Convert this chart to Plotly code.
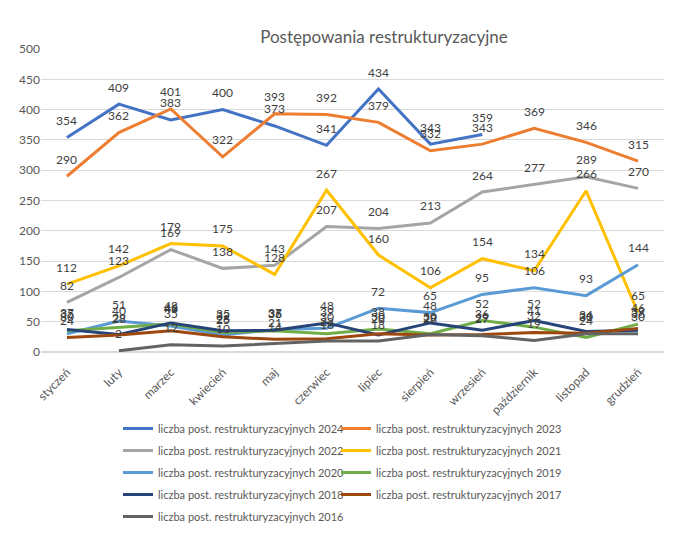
import plotly.graph_objects as go

months = ["styczeń", "luty", "marzec", "kwiecień", "maj", "czerwiec", "lipiec",
          "sierpień", "wrzesień", "październik", "listopad", "grudzień"]

y2024 = [354, 409, 383, 400, 373, 341, 434, 343, 359, None, None, None]
y2023 = [290, 362, 401, 322, 393, 392, 379, 332, 343, 369, 346, 315]
y2022 = [82, 123, 169, 138, 143, 207, 204, 213, 264, 277, 289, 270]
y2021 = [112, 142, 179, 175, 128, 267, 160, 106, 154, 134, 266, 65]
y2020 = [30, 51, 43, 28, 37, 39, 72, 65, 95, 106, 93, 144]
y2019 = [35, 40, 46, 32, 35, 30, 38, 30, 52, 41, 24, 46]
y2018 = [37, 29, 48, 35, 36, 48, 28, 48, 36, 52, 34, 36]
y2017 = [24, 28, 35, 25, 21, 22, 30, 28, 29, 32, 31, 39]
y2016 = [None, 2, 12, 10, 14, 18, 18, 29, 27, 19, 30, 30]

series = [
    ("liczba post. restrukturyzacyjnych 2024", y2024, "#4472C4"),
    ("liczba post. restrukturyzacyjnych 2023", y2023, "#ED7D31"),
    ("liczba post. restrukturyzacyjnych 2022", y2022, "#A5A5A5"),
    ("liczba post. restrukturyzacyjnych 2021", y2021, "#FFC000"),
    ("liczba post. restrukturyzacyjnych 2020", y2020, "#5B9BD5"),
    ("liczba post. restrukturyzacyjnych 2019", y2019, "#70AD47"),
    ("liczba post. restrukturyzacyjnych 2018", y2018, "#264478"),
    ("liczba post. restrukturyzacyjnych 2017", y2017, "#9E480E"),
    ("liczba post. restrukturyzacyjnych 2016", y2016, "#636363"),
]

FONT = "Lato"
fig = go.Figure()
annotations = []
for i, (name, vals, col) in enumerate(series):
    fig.add_trace(go.Scatter(
        x=months, y=vals, mode="lines", name=name,
        legend="legend" if i % 2 == 0 else "legend2",
        legendgroup="g%d" % i,
        line=dict(color=col, width=3),
        connectgaps=False,
    ))
    for m, v in zip(months, vals):
        if v is None:
            continue
        annotations.append(dict(
            x=m, y=v, xref="x", yref="y", text=str(v), showarrow=False,
            yshift=17, font=dict(family=FONT, size=12, color="#404040"),
        ))

# page is offset by the browser's 8px body margin
W, H = 671, 529
ml, mr, mt, mb = 33, 15, 41, 185
pw = W - ml - mr
ph = H - mt - mb

leg_common = dict(orientation="v", yanchor="top", xanchor="left",
                  y=(mt + ph - 406) / ph, itemwidth=30, tracegroupgap=3,
                  font=dict(family=FONT, size=11, color="#595959"),
                  bgcolor="rgba(0,0,0,0)")

fig.update_layout(
    width=W, height=H,
    margin=dict(l=ml, r=mr, t=mt, b=mb, pad=0, autoexpand=False),
    paper_bgcolor="white", plot_bgcolor="white",
    font=dict(family=FONT, color="#595959"),
    title=dict(text="Postępowania restrukturyzacyjne",
               font=dict(family=FONT, size=17, color="#595959"),
               x=376 / W, xanchor="center", xref="container",
               y=1 - 29 / H, yanchor="middle", yref="container"),
    xaxis=dict(type="category", range=[-0.5, len(months) - 0.5],
               showgrid=False, showline=False, zeroline=False,
               tickangle=-45, tickfont=dict(size=12, color="#595959"),
               ticks="", ticklabelstandoff=10),
    yaxis=dict(range=[0, 500], dtick=50, showgrid=True, gridcolor="#D9D9D9",
               gridwidth=1, zeroline=True, zerolinecolor="#D9D9D9",
               showline=False, ticks="", tickfont=dict(size=12, color="#595959")),
    showlegend=True,
    legend=dict(x=(110 - ml) / pw, **leg_common),
    legend2=dict(x=(328 - ml) / pw, **leg_common),
    annotations=annotations,
)

fig.write_html("out.html")
